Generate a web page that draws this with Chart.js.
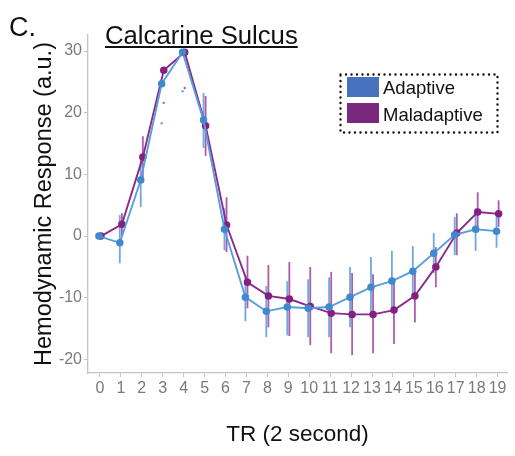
<!DOCTYPE html>
<html>
<head>
<meta charset="utf-8">
<script src="https://cdn.jsdelivr.net/npm/chart.js@4.4.1/dist/chart.umd.min.js"></script>
<style>
  body { margin: 0; background: #fff; }
  #wrap { position: relative; width: 515px; height: 456px; font-family: "Liberation Sans", Arial, Helvetica, sans-serif; }
  #panel { position: absolute; left: 9px; top: 14px; font-size: 27px; line-height: 27px; color: #111; }
  #title { position: absolute; left: 105px; top: 23px; font-size: 25.7px; line-height: 25px; color: #111; text-decoration: underline; text-underline-offset: 2px; text-decoration-thickness: 2px; }
  #legend { position: absolute; left: 339px; top: 73px; width: 160px; height: 61px; }
  #legend svg { position: absolute; left: 0; top: 0; }
  .sw { position: absolute; left: 8px; width: 32px; height: 20px; }
  .lab { position: absolute; left: 44px; font-size: 18.5px; line-height: 20px; color: #111; }
</style>
</head>
<body>
<div id="wrap">
  <canvas id="hrf" width="515" height="456"></canvas>
  <div id="panel">C.</div>
  <div id="title">Calcarine Sulcus</div>
  <div id="legend">
    <svg width="160" height="61"><rect x="1.5" y="1.5" width="157" height="58" fill="none" stroke="#111" stroke-width="2.4" stroke-linecap="round" stroke-dasharray="0 5.5"/></svg>
    <div class="sw" style="top:4px;background:#4773be"></div><div class="lab" style="top:5px">Adaptive</div>
    <div class="sw" style="top:30px;background:#79287e"></div><div class="lab" style="top:32px">Maladaptive</div>
  </div>
</div>
<script>
var tr = [0,1,2,3,4,5,6,7,8,9,10,11,12,13,14,15,16,17,18,19];
var yTicks = [-20,-10,0,10,20,30];

var adaptive    = [0,-1.1,9.1,24.7,29.8,18.8,1.1,-9.9,-12.2,-11.5,-11.7,-11.5,-9.9,-8.3,-7.3,-5.7,-2.8,0.2,1.1,0.8];
var adaptiveLo  = [null,-4.4,4.7,null,null,14.3,-2.3,-13.8,-16.4,-16.1,-16.4,-16.4,-14.8,-13.1,-11.7,-10.1,-6.0,-3.1,-2.4,-1.9];
var adaptiveHi  = [null,3.4,13.1,null,null,23.2,4.5,-6.3,-8.1,-7.3,-7.0,-6.7,-5.0,-3.4,-2.4,-1.6,0.5,3.1,4.5,3.1];

var maladaptive   = [0,1.9,12.8,26.9,29.8,17.9,1.8,-7.5,-9.7,-10.2,-11.4,-12.5,-12.7,-12.7,-12.0,-9.7,-5.0,0.5,3.9,3.6];
var maladaptiveLo = [null,0.1,9.4,null,null,13.0,-2.6,-11.7,-14.8,-16.2,-17.7,-19.0,-19.3,-19.0,-17.5,-14.0,-8.3,-3.1,0.6,1.5];
var maladaptiveHi = [null,3.7,16.2,null,null,22.7,6.3,-3.2,-4.7,-4.2,-5.0,-5.8,-6.0,-6.2,-7.1,-5.5,-1.8,3.7,7.1,5.8];

// lone whisker ends visible near the peak
var strayTR = [3,4];
var strayAdaptive = [18.3,23.5];
var strayMaladaptive = [21.6,24.0];

var dodge = 0.05;
var blueLine = "#5a9fdc", bluePt = "#4189cf", blueBar = "rgba(86,154,218,0.85)";
var purpLine = "#8c2a8a", purpPt = "#84217f", purpBar = "rgba(150,52,148,0.8)";

function pts(xs, ys, dx) {
    var out = [];
    for (var i = 0; i < xs.length; i++) out.push({x: xs[i] + dx, y: ys[i]});
    return out;
}

var errorBars = {
    id: 'errorBars',
    beforeDatasetsDraw: function(chart) {
        var ctx = chart.ctx, xs = chart.scales.x, ys = chart.scales.y;
        var sets = [
            {lo: adaptiveLo, hi: adaptiveHi, dx: -dodge, col: blueBar},
            {lo: maladaptiveLo, hi: maladaptiveHi, dx: dodge, col: purpBar}
        ];
        ctx.save();
        ctx.lineWidth = 1.8;
        sets.forEach(function(s) {
            ctx.strokeStyle = s.col;
            for (var i = 0; i < tr.length; i++) {
                if (s.lo[i] == null) continue;
                var px = xs.getPixelForValue(tr[i] + s.dx);
                ctx.beginPath();
                ctx.moveTo(px, ys.getPixelForValue(s.lo[i]));
                ctx.lineTo(px, ys.getPixelForValue(s.hi[i]));
                ctx.stroke();
            }
        });
        ctx.restore();
    }
};

var font = "'Liberation Sans', Arial, Helvetica, sans-serif";

new Chart(document.getElementById("hrf"), {
    type: 'scatter',
    data: {
        datasets: [
            {label: 'Adaptive', data: pts(tr, adaptive, -dodge), showLine: true, borderColor: blueLine, borderWidth: 1.9,
             pointBackgroundColor: bluePt, pointBorderColor: bluePt, pointRadius: 2.8},
            {label: 'Maladaptive', data: pts(tr, maladaptive, dodge), showLine: true, borderColor: purpLine, borderWidth: 1.9,
             pointBackgroundColor: purpPt, pointBorderColor: purpPt, pointRadius: 2.8},
            {label: 'a-end', data: pts(strayTR, strayAdaptive, -dodge), pointRadius: 1.2, pointBackgroundColor: blueBar, pointBorderWidth: 0},
            {label: 'm-end', data: pts(strayTR, strayMaladaptive, dodge), pointRadius: 1.2, pointBackgroundColor: purpBar, pointBorderWidth: 0}
        ]
    },
    options: {
        responsive: false,
        animation: false,
        layout: {padding: {top: 35, right: 8, left: 0, bottom: 0}},
        plugins: {legend: {display: false}, tooltip: {enabled: false}},
        scales: {
            x: {
                type: 'linear', min: -0.57, max: 19.45,
                afterFit: function(s) { s.height = 83; },
                afterBuildTicks: function(s) { s.ticks = tr.map(function(v) { return {value: v}; }); },
                grid: {drawOnChartArea: false, drawTicks: true, tickLength: 4, color: '#c4c4c4'},
                border: {color: '#c4c4c4', width: 1.3},
                ticks: {autoSkip: false, maxRotation: 0, padding: 2, color: '#7a7a7a', font: {family: font, size: 16}},
                title: {display: true, text: 'TR (2 second)', color: '#111', font: {family: font, size: 22.5}, padding: {top: 0, bottom: 8}}
            },
            y: {
                min: -22.2, max: 32.6,
                afterFit: function(s) { s.width = 88; },
                afterBuildTicks: function(s) { s.ticks = yTicks.map(function(v) { return {value: v}; }); },
                grid: {drawOnChartArea: false, drawTicks: true, tickLength: 4, color: '#c4c4c4'},
                border: {color: '#c4c4c4', width: 1.3},
                ticks: {padding: 2, color: '#7a7a7a', font: {family: font, size: 16}},
                title: {display: true, text: 'Hemodynamic Response (a.u.)', color: '#111', font: {family: font, size: 23.5}, padding: {top: 30, bottom: 0}}
            }
        }
    },
    plugins: [errorBars]
});
</script>
</body>
</html>
